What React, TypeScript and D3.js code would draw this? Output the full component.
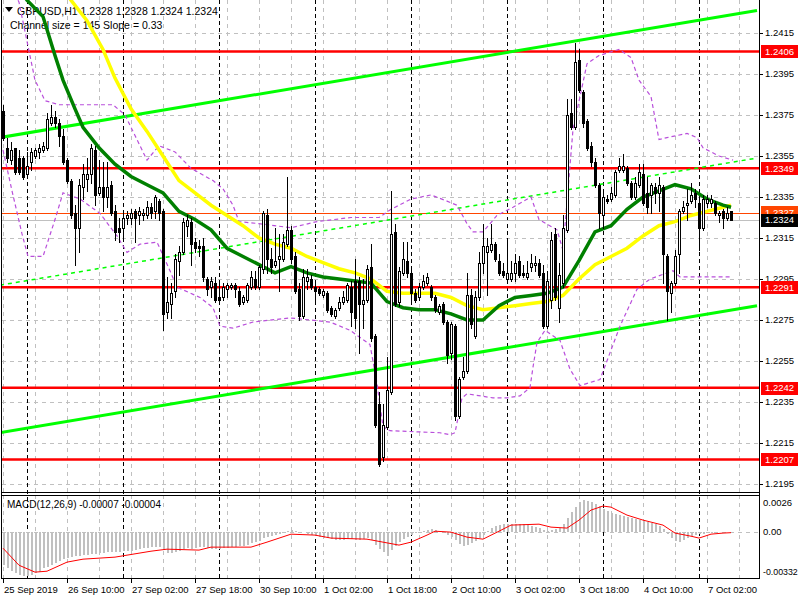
import * as d3 from "d3";

// price scale ticks, levels and time axis
const priceTicks = [1.2195, 1.2215, 1.2235, 1.2255, 1.2275, 1.2295, 1.2315, 1.2335, 1.2355, 1.2375, 1.2395, 1.2415];
const levels = [1.2406, 1.2349, 1.2291, 1.2242, 1.2207];
const bidPrice = 1.2324;
const askPrice = 1.2327;
const timeLabels = ["25 Sep 2019", "26 Sep 10:00", "27 Sep 02:00", "27 Sep 18:00", "30 Sep 10:00", "1 Oct 02:00", "1 Oct 18:00", "2 Oct 10:00", "3 Oct 02:00", "3 Oct 18:00", "4 Oct 10:00", "7 Oct 02:00"];
const timeLabelBars = [0, 16, 32, 48, 64, 80, 96, 112, 128, 144, 160, 176];
const daySeparatorBars = [6, 30, 54, 78, 102, 126, 150, 174];
const gridBars = d3.range(0, 189, 8);

// H1 candles: open, high, low, close
const candles: [number, number, number, number][] = [
  [1.2377, 1.2380, 1.2363, 1.2364], [1.2359, 1.2364, 1.2352, 1.2354], [1.2353, 1.2362, 1.2351, 1.2358], [1.2359, 1.2359, 1.2346, 1.2347],
  [1.2354, 1.2358, 1.2346, 1.2347], [1.2354, 1.2355, 1.2344, 1.2345], [1.2346, 1.2357, 1.2345, 1.2350], [1.2352, 1.2359, 1.2348, 1.2357],
  [1.2355, 1.2359, 1.2354, 1.2358], [1.2357, 1.2361, 1.2354, 1.2359], [1.2358, 1.2362, 1.2357, 1.2360], [1.2359, 1.2376, 1.2358, 1.2373],
  [1.2371, 1.2380, 1.2370, 1.2374], [1.2374, 1.2377, 1.2369, 1.2371], [1.2371, 1.2373, 1.2360, 1.2365], [1.2365, 1.2368, 1.2351, 1.2352],
  [1.2353, 1.2354, 1.2342, 1.2343], [1.2343, 1.2344, 1.2325, 1.2326], [1.2327, 1.2331, 1.2302, 1.2320], [1.2320, 1.2344, 1.2308, 1.2341],
  [1.2340, 1.2351, 1.2334, 1.2346], [1.2344, 1.2354, 1.2338, 1.2346], [1.2346, 1.2361, 1.2342, 1.2359], [1.2358, 1.2360, 1.2331, 1.2336],
  [1.2337, 1.2353, 1.2336, 1.2340], [1.2340, 1.2352, 1.2328, 1.2335], [1.2335, 1.2352, 1.2330, 1.2340], [1.2341, 1.2343, 1.2326, 1.2327],
  [1.2328, 1.2331, 1.2314, 1.2318], [1.2320, 1.2325, 1.2313, 1.2318], [1.2320, 1.2327, 1.2315, 1.2325], [1.2325, 1.2328, 1.2322, 1.2326],
  [1.2325, 1.2329, 1.2322, 1.2327], [1.2328, 1.2329, 1.2313, 1.2325], [1.2326, 1.2330, 1.2322, 1.2328], [1.2326, 1.2329, 1.2324, 1.2327],
  [1.2326, 1.2333, 1.2325, 1.2330], [1.2330, 1.2332, 1.2325, 1.2327], [1.2328, 1.2336, 1.2325, 1.2335], [1.2333, 1.2334, 1.2324, 1.2327],
  [1.2328, 1.2329, 1.2270, 1.2278], [1.2279, 1.2296, 1.2276, 1.2284], [1.2283, 1.2293, 1.2276, 1.2288], [1.2289, 1.2307, 1.2286, 1.2305],
  [1.2304, 1.2311, 1.2297, 1.2308], [1.2308, 1.2325, 1.2307, 1.2323], [1.2321, 1.2326, 1.2316, 1.2324], [1.2323, 1.2325, 1.2302, 1.2312],
  [1.2313, 1.2315, 1.2308, 1.2310], [1.2311, 1.2314, 1.2306, 1.2310], [1.2311, 1.2315, 1.2294, 1.2296], [1.2295, 1.2296, 1.2287, 1.2290],
  [1.2291, 1.2296, 1.2286, 1.2294], [1.2293, 1.2296, 1.2284, 1.2285], [1.2286, 1.2293, 1.2284, 1.2285], [1.2286, 1.2293, 1.2285, 1.2291],
  [1.2290, 1.2293, 1.2286, 1.2292], [1.2291, 1.2293, 1.2290, 1.2292], [1.2292, 1.2293, 1.2286, 1.2290], [1.2289, 1.2291, 1.2282, 1.2283],
  [1.2284, 1.2287, 1.2283, 1.2286], [1.2285, 1.2293, 1.2284, 1.2292], [1.2291, 1.2299, 1.2290, 1.2296], [1.2295, 1.2299, 1.2290, 1.2291],
  [1.2291, 1.2302, 1.2290, 1.2301], [1.2300, 1.2328, 1.2298, 1.2327], [1.2326, 1.2329, 1.2298, 1.2305], [1.2305, 1.2310, 1.2298, 1.2301],
  [1.2302, 1.2320, 1.2301, 1.2304], [1.2305, 1.2317, 1.2289, 1.2306], [1.2305, 1.2317, 1.2304, 1.2313], [1.2312, 1.2345, 1.2311, 1.2319],
  [1.2319, 1.2321, 1.2303, 1.2305], [1.2306, 1.2308, 1.2288, 1.2289], [1.2290, 1.2293, 1.2275, 1.2277], [1.2277, 1.2300, 1.2276, 1.2296],
  [1.2294, 1.2300, 1.2290, 1.2296], [1.2295, 1.2297, 1.2290, 1.2291], [1.2291, 1.2293, 1.2283, 1.2289], [1.2290, 1.2291, 1.2287, 1.2288],
  [1.2287, 1.2290, 1.2286, 1.2289], [1.2288, 1.2289, 1.2279, 1.2280], [1.2281, 1.2282, 1.2277, 1.2278], [1.2277, 1.2281, 1.2276, 1.2280],
  [1.2281, 1.2286, 1.2280, 1.2284], [1.2284, 1.2289, 1.2283, 1.2286], [1.2285, 1.2293, 1.2284, 1.2292], [1.2291, 1.2294, 1.2272, 1.2279],
  [1.2294, 1.2305, 1.2271, 1.2276], [1.2294, 1.2296, 1.2259, 1.2283], [1.2283, 1.2295, 1.2271, 1.2285], [1.2285, 1.2302, 1.2284, 1.2300],
  [1.2301, 1.2312, 1.2265, 1.2266], [1.2267, 1.2268, 1.2223, 1.2224], [1.2234, 1.2240, 1.2204, 1.2205], [1.2208, 1.2234, 1.2206, 1.2224],
  [1.2223, 1.2257, 1.2222, 1.2241], [1.2240, 1.2338, 1.2239, 1.2317], [1.2318, 1.2322, 1.2282, 1.2283], [1.2284, 1.2301, 1.2282, 1.2299],
  [1.2298, 1.2313, 1.2297, 1.2305], [1.2304, 1.2313, 1.2296, 1.2298], [1.2298, 1.2300, 1.2285, 1.2288], [1.2288, 1.2290, 1.2284, 1.2285],
  [1.2286, 1.2293, 1.2285, 1.2291], [1.2291, 1.2297, 1.2290, 1.2294], [1.2293, 1.2298, 1.2292, 1.2296], [1.2291, 1.2292, 1.2285, 1.2286],
  [1.2286, 1.2287, 1.2279, 1.2280], [1.2279, 1.2283, 1.2278, 1.2282], [1.2283, 1.2284, 1.2273, 1.2274], [1.2274, 1.2275, 1.2254, 1.2258],
  [1.2259, 1.2274, 1.2256, 1.2273], [1.2272, 1.2273, 1.2226, 1.2228], [1.2228, 1.2247, 1.2227, 1.2246], [1.2247, 1.2257, 1.2246, 1.2250],
  [1.2250, 1.2298, 1.2249, 1.2287], [1.2287, 1.2290, 1.2271, 1.2273], [1.2267, 1.2289, 1.2266, 1.2286], [1.2286, 1.2308, 1.2285, 1.2303],
  [1.2303, 1.2322, 1.2298, 1.2311], [1.2308, 1.2315, 1.2287, 1.2311], [1.2309, 1.2322, 1.2308, 1.2312], [1.2312, 1.2313, 1.2304, 1.2305],
  [1.2304, 1.2307, 1.2297, 1.2298], [1.2299, 1.2303, 1.2296, 1.2297], [1.2295, 1.2314, 1.2294, 1.2298], [1.2295, 1.2304, 1.2294, 1.2298],
  [1.2298, 1.2307, 1.2294, 1.2303], [1.2304, 1.2306, 1.2296, 1.2297], [1.2298, 1.2302, 1.2296, 1.2297], [1.2296, 1.2304, 1.2295, 1.2298],
  [1.2301, 1.2307, 1.2299, 1.2303], [1.2302, 1.2306, 1.2299, 1.2303], [1.2303, 1.2305, 1.2296, 1.2297], [1.2298, 1.2302, 1.2271, 1.2272],
  [1.2272, 1.2299, 1.2271, 1.2294], [1.2285, 1.2318, 1.2281, 1.2314], [1.2317, 1.2320, 1.2285, 1.2286], [1.2281, 1.2303, 1.2274, 1.2297],
  [1.2293, 1.2326, 1.2291, 1.2320], [1.2319, 1.2383, 1.2318, 1.2375], [1.2376, 1.2383, 1.2368, 1.2369], [1.2369, 1.2410, 1.2368, 1.2401],
  [1.2402, 1.2407, 1.2386, 1.2387], [1.2386, 1.2387, 1.2369, 1.2371], [1.2372, 1.2373, 1.2358, 1.2359], [1.2360, 1.2362, 1.2350, 1.2352],
  [1.2352, 1.2354, 1.2340, 1.2341], [1.2341, 1.2342, 1.2320, 1.2327], [1.2326, 1.2337, 1.2320, 1.2335], [1.2334, 1.2336, 1.2332, 1.2333],
  [1.2334, 1.2340, 1.2333, 1.2337], [1.2336, 1.2348, 1.2335, 1.2347], [1.2348, 1.2354, 1.2347, 1.2350], [1.2348, 1.2356, 1.2347, 1.2350],
  [1.2349, 1.2350, 1.2341, 1.2342], [1.2342, 1.2343, 1.2334, 1.2335], [1.2335, 1.2345, 1.2334, 1.2342], [1.2341, 1.2351, 1.2340, 1.2347],
  [1.2346, 1.2351, 1.2331, 1.2332], [1.2337, 1.2345, 1.2327, 1.2330], [1.2336, 1.2342, 1.2327, 1.2341], [1.2340, 1.2342, 1.2332, 1.2337],
  [1.2337, 1.2345, 1.2328, 1.2341], [1.2340, 1.2341, 1.2293, 1.2307], [1.2306, 1.2307, 1.2275, 1.2289], [1.2288, 1.2294, 1.2279, 1.2293],
  [1.2293, 1.2309, 1.2292, 1.2306], [1.2307, 1.2329, 1.2298, 1.2328], [1.2328, 1.2333, 1.2327, 1.2330], [1.2331, 1.2339, 1.2324, 1.2332],
  [1.2333, 1.2342, 1.2332, 1.2336], [1.2337, 1.2339, 1.2330, 1.2334], [1.2332, 1.2335, 1.2309, 1.2320], [1.2320, 1.2336, 1.2319, 1.2334],
  [1.2332, 1.2336, 1.2330, 1.2334], [1.2332, 1.2336, 1.2330, 1.2334], [1.2332, 1.2333, 1.2326, 1.2327], [1.2326, 1.2328, 1.2323, 1.2327],
  [1.2328, 1.2329, 1.2320, 1.2325], [1.2325, 1.2330, 1.2324, 1.2327], [1.2328, 1.2328, 1.2324, 1.2324],
];

// moving averages [bar, price]
const maYellow: [number, number][] = [
  [16, 1.2434], [17, 1.2431], [21, 1.2421], [25, 1.2407], [28, 1.2393], [32, 1.2378], [36, 1.2367], [40, 1.2355], [44, 1.2343],
  [48, 1.2337], [52, 1.2331], [56, 1.2326], [60, 1.2321], [64, 1.2315], [68, 1.2312], [72, 1.2310], [76, 1.2306], [80, 1.2303],
  [84, 1.2300], [88, 1.2298], [92, 1.2295], [96, 1.2289], [100, 1.2288], [104, 1.2288], [108, 1.2288], [112, 1.2286], [116, 1.2282],
  [120, 1.2280], [124, 1.2281], [128, 1.2282], [132, 1.2283], [136, 1.2284], [140, 1.2287], [144, 1.2295], [148, 1.2302], [152, 1.2306],
  [156, 1.2310], [160, 1.2316], [164, 1.2321], [168, 1.2323], [172, 1.2326], [176, 1.2328], [180, 1.2330], [182, 1.2331],
];
const maGreen: [number, number][] = [
  [5, 1.2434], [6, 1.2431], [10, 1.2423], [13, 1.2404], [15, 1.2392], [18, 1.2378], [20, 1.2369], [24, 1.2359], [28, 1.2351],
  [32, 1.2345], [36, 1.2341], [40, 1.2337], [44, 1.2328], [48, 1.2324], [52, 1.2319], [56, 1.2310], [60, 1.2306], [64, 1.2302],
  [68, 1.2298], [72, 1.2301], [76, 1.2298], [80, 1.2296], [84, 1.2295], [88, 1.2294], [92, 1.2293], [96, 1.2284], [100, 1.2281],
  [104, 1.2280], [108, 1.2280], [112, 1.2278], [116, 1.2275], [120, 1.2275], [124, 1.2282], [128, 1.2286], [132, 1.2287], [136, 1.2288],
  [140, 1.2291], [144, 1.2304], [148, 1.2318], [152, 1.2321], [156, 1.2329], [160, 1.2335], [164, 1.2338], [168, 1.2341], [172, 1.2339],
  [176, 1.2334], [180, 1.2331], [182, 1.2330],
];

// bollinger-style bands [bar, price]
const bandUpper: [number, number][] = [
  [3, 1.2434], [4, 1.2430], [8, 1.2392], [10.5, 1.2382], [14, 1.2380], [19, 1.2380], [27.5, 1.2380], [30.5, 1.2375], [33, 1.2365],
  [36, 1.2353], [39, 1.2360], [43, 1.2357], [47, 1.2349], [52.5, 1.2343], [55, 1.2339], [57.5, 1.2331], [59, 1.2323], [64, 1.2322],
  [72, 1.2320], [78.5, 1.2323], [87, 1.2325], [94, 1.2325], [97, 1.2329], [102, 1.2334], [107, 1.2336], [111, 1.2333], [113.5, 1.2331],
  [116, 1.2322], [117.5, 1.2318], [120, 1.2318], [123.5, 1.2326], [127.5, 1.2330], [132, 1.2335], [134, 1.2324], [138.5, 1.2319],
  [140, 1.2309], [142.5, 1.2368], [146, 1.2400], [149, 1.2404], [154, 1.2407], [157, 1.2403], [159, 1.2392], [162, 1.2384],
  [164, 1.2363], [166, 1.2364], [171, 1.2366], [173.5, 1.2364], [175, 1.2359], [179, 1.2355], [182.5, 1.2353],
];
const bandLower: [number, number][] = [
  [0, 1.2358], [2.25, 1.2338], [4.75, 1.2317], [6.25, 1.2306], [10, 1.2306], [13, 1.2324], [15, 1.2337], [19.25, 1.2334],
  [24.25, 1.2327], [28.5, 1.2316], [31, 1.2308], [34.25, 1.2312], [38.5, 1.2313], [41.75, 1.2299], [43.5, 1.2291], [49.25, 1.2286],
  [52.5, 1.2281], [54.25, 1.2272], [57.5, 1.2271], [62.5, 1.2274], [71.75, 1.2276], [81.75, 1.2274], [86.75, 1.2270], [91.75, 1.2263],
  [93.5, 1.2244], [95, 1.2223], [96.75, 1.2221], [109.25, 1.2220], [111.75, 1.2219], [113, 1.2220], [114.75, 1.2237], [116, 1.2239],
  [122.5, 1.2237], [126, 1.2237], [129.25, 1.2238], [131.75, 1.2242], [132.5, 1.2252], [133.5, 1.2264], [135.5, 1.2270],
  [139.25, 1.2265], [141.75, 1.2251], [144.25, 1.2243], [149.25, 1.2246], [154.25, 1.2272], [158.5, 1.2290], [161.75, 1.2295],
  [167.5, 1.2299], [169.25, 1.2296], [176, 1.2296], [182.25, 1.2296],
];

// linear regression channel (bar, price at both ends)
const channelBars = [-0.75, 188.5];
const channelUpper = [1.2364, 1.2426];
const channelMid = [1.2292, 1.2354];
const channelLower = [1.2220, 1.2282];

// MACD(12,26,9) histogram per bar and signal line [bar, value]
const macdHist = [
  -0.00245, -0.00267, -0.00289, -0.00304, -0.00319, -0.00326, -0.00326, -0.00319, -0.00304, -0.00296, -0.00267, -0.00259,
  -0.00245, -0.00230, -0.00215, -0.00200, -0.00193, -0.00185, -0.00178, -0.00178, -0.00170, -0.00170, -0.00163, -0.00163,
  -0.00156, -0.00156, -0.00148, -0.00148, -0.00148, -0.00148, -0.00141, -0.00141, -0.00141, -0.00133, -0.00126, -0.00119,
  -0.00119, -0.00111, -0.00111, -0.00111, -0.00133, -0.00156, -0.00156, -0.00148, -0.00141, -0.00126, -0.00119, -0.00126,
  -0.00119, -0.00111, -0.00111, -0.00119, -0.00126, -0.00126, -0.00126, -0.00119, -0.00119, -0.00111, -0.00111, -0.00104,
  -0.00104, -0.00096, -0.00082, -0.00074, -0.00067, -0.00044, -0.00037, -0.00030, -0.00022, -0.00015, -0.00007, 0.00007,
  0.00015, 0.00007, 0.0, 0.0, -0.00015, -0.00022, -0.00030, -0.00037, -0.00044, -0.00044, -0.00052, -0.00059,
  -0.00059, -0.00059, -0.00052, -0.00052, -0.00059, -0.00059, -0.00052, -0.00044, -0.00059, -0.00096, -0.00126, -0.00148,
  -0.00178, -0.00133, -0.00104, -0.00074, -0.00052, -0.00037, -0.00022, -0.00007, 0.0, 0.00007, 0.00015, 0.00022,
  0.00015, 0.00007, -0.00007, -0.00022, -0.00037, -0.00059, -0.00089, -0.00104, -0.00096, -0.00082, -0.00067, -0.00044,
  -0.00022, 0.00007, 0.00030, 0.00044, 0.00052, 0.00059, 0.00059, 0.00059, 0.00059, 0.00059, 0.00059, 0.00052,
  0.00044, 0.00037, 0.00030, 0.00015, 0.00007, 0.00015, 0.00022, 0.00030, 0.00059, 0.00104, 0.00148, 0.00185,
  0.00222, 0.00237, 0.00230, 0.00222, 0.00207, 0.00193, 0.00170, 0.00156, 0.00141, 0.00133, 0.00126, 0.00119,
  0.00111, 0.00104, 0.00096, 0.00089, 0.00082, 0.00074, 0.00067, 0.00059, 0.00044, 0.00022, -0.00015, -0.00044,
  -0.00067, -0.00074, -0.00059, -0.00044, -0.00030, -0.00022, -0.00015, -0.00015, -0.00007, -0.00007, -0.00007, 0.0,
  0.0, 0.0, -0.00007,
];
const macdSignal: [number, number][] = [
  [0, -0.00119], [4, -0.00245], [8, -0.00296], [11, -0.00289], [16, -0.00222], [20, -0.00200], [28, -0.00185], [37, -0.00141],
  [41, -0.00126], [49, -0.00133], [52, -0.00111], [62, -0.00111], [66, -0.00074], [72, -0.00015], [78, -0.00022], [82, -0.00044],
  [91, -0.00052], [95, -0.00074], [99, -0.00096], [102, -0.00074], [106, -0.00022], [108, 0.00007], [112, 0.0], [116, -0.00037],
  [120, -0.00052], [124, 0.00007], [127, 0.00052], [134, 0.00059], [137, 0.00037], [141, 0.00030], [144, 0.00089], [147, 0.00163],
  [150, 0.00193], [152, 0.00185], [156, 0.00126], [160, 0.00089], [165, 0.00052], [168, -0.00007], [172, -0.00030], [174, -0.00044],
  [177, -0.00015], [180, -0.00007], [182, -0.00004],
];
const macdTickLabels = ["0.0026", "0.00", "-0.00332"];

const FONT = "'Liberation Sans', Arial, sans-serif";

export default function App() {
  const width = 800;
  const height = 600;
  const plotRight = 759;
  const mainBottom = 492;
  const macdTop = 495;
  const macdBottom = 578;

  const x = d3.scaleLinear().domain([0, 182]).range([3, 731]);
  const y = d3.scaleLinear().domain([1.2195, 1.2415]).range([484, 33]);
  const m = d3.scaleLinear().domain([-0.00332, 0.0026]).range([577, 497]);

  const pairLine = d3
    .line<[number, number]>()
    .x((d) => x(d[0]))
    .y((d) => y(d[1]));
  const signalLine = d3
    .line<[number, number]>()
    .x((d) => x(d[0]))
    .y((d) => m(d[1]));
  const channel = (vals: number[]) =>
    pairLine(channelBars.map((b, i) => [b, vals[i]] as [number, number])) ?? "";

  const fmt = d3.format(".4f");
  const macdTickY = [m(0.0026) + 6, m(0), m(-0.00332) - 5];

  return (
    <svg
      width={width}
      height={height}
      style={{ position: "fixed", left: 0, top: 0, display: "block", background: "#fff" }}
    >
      <defs>
        <clipPath id="mainClip">
          <rect x={1} y={0} width={plotRight - 1} height={mainBottom} />
        </clipPath>
        <clipPath id="macdClip">
          <rect x={1} y={macdTop + 1} width={plotRight - 1} height={macdBottom - macdTop - 1} />
        </clipPath>
      </defs>

      {/* grid */}
      <g stroke="#c0c0c0" strokeDasharray="4,4" shapeRendering="crispEdges">
        {priceTicks.map((p) => (
          <line key={p} x1={2} x2={plotRight} y1={Math.round(y(p)) + 0.5} y2={Math.round(y(p)) + 0.5} />
        ))}
        {gridBars.map((b) => (
          <line key={"v" + b} x1={Math.round(x(b)) + 0.5} x2={Math.round(x(b)) + 0.5} y1={0} y2={mainBottom} />
        ))}
        {gridBars.map((b) => (
          <line key={"mv" + b} x1={Math.round(x(b)) + 0.5} x2={Math.round(x(b)) + 0.5} y1={macdTop} y2={macdBottom} />
        ))}
        <line x1={2} x2={plotRight} y1={Math.round(m(0)) + 0.5} y2={Math.round(m(0)) + 0.5} />
      </g>
      <g stroke="#000" strokeDasharray="4,3" shapeRendering="crispEdges">
        {daySeparatorBars.map((b) => (
          <line key={b} x1={Math.round(x(b)) + 0.5} x2={Math.round(x(b)) + 0.5} y1={0} y2={macdBottom} />
        ))}
      </g>

      {/* title */}
      <polygon points="5,7 13,7 9,12" fill="#000" />
      <text x={17} y={14.5} fontFamily={FONT} fontSize={10.5} fill="#000">
        GBPUSD,H1  1.2328 1.2328 1.2324 1.2324
      </text>
      <text x={10} y={28.5} fontFamily={FONT} fontSize={10.5} fill="#000">
        Channel size = 145 Slope = 0.33
      </text>

      <g clipPath="url(#mainClip)">
        {/* levels */}
        {levels.map((p) => (
          <line key={p} x1={0} x2={plotRight} y1={y(p)} y2={y(p)} stroke="#ff0000" strokeWidth={2.5} />
        ))}
        <line x1={0} x2={plotRight} y1={Math.round(y(askPrice)) + 0.5} y2={Math.round(y(askPrice)) + 0.5} stroke="#ff4500" />
        <line x1={0} x2={plotRight} y1={Math.round(y(bidPrice)) + 0.5} y2={Math.round(y(bidPrice)) + 0.5} stroke="#c0c0c0" />

        {/* regression channel */}
        <path d={channel(channelUpper)} stroke="#00ff00" strokeWidth={3} fill="none" />
        <path d={channel(channelLower)} stroke="#00ff00" strokeWidth={3} fill="none" />
        <path d={channel(channelMid)} stroke="#00ff00" strokeWidth={1.5} strokeDasharray="4,4" fill="none" />

        {/* bands */}
        <path d={pairLine(bandUpper) ?? ""} stroke="#b94fdb" strokeWidth={1.2} strokeDasharray="4,3" fill="none" />
        <path d={pairLine(bandLower) ?? ""} stroke="#b94fdb" strokeWidth={1.2} strokeDasharray="4,3" fill="none" />

        {/* moving averages */}
        <path d={pairLine(maYellow) ?? ""} stroke="#ffff00" strokeWidth={3.5} fill="none" />
        <path d={pairLine(maGreen) ?? ""} stroke="#008000" strokeWidth={3.5} fill="none" />

        {/* candles */}
        {candles.map(([o, h, l, c], i) => {
          const cx = Math.round(x(i));
          const top = Math.round(y(Math.max(o, c)));
          const bot = Math.round(y(Math.min(o, c)));
          const bull = c >= o;
          return (
            <g key={i} shapeRendering="crispEdges">
              <line x1={cx + 0.5} x2={cx + 0.5} y1={Math.round(y(h))} y2={Math.round(y(l)) + 1} stroke="#000" />
              <rect x={cx - 0.5} y={top + 0.5} width={2} height={Math.max(bot - top, 1)} fill={bull ? "#fff" : "#000"} stroke="#000" />
            </g>
          );
        })}
      </g>

      {/* MACD */}
      <text x={7} y={508} fontFamily={FONT} fontSize={10} fill="#000">
        MACD(12,26,9) -0.00007 -0.00004
      </text>
      <g clipPath="url(#macdClip)">
        {macdHist.map((v, i) => (
          <rect
            key={i}
            x={Math.round(x(i)) - 0.5}
            y={Math.min(m(v), m(0))}
            width={2}
            height={Math.abs(m(v) - m(0))}
            fill="#c0c0c0"
            shapeRendering="crispEdges"
          />
        ))}
        <path d={signalLine(macdSignal) ?? ""} stroke="#ff0000" strokeWidth={1} fill="none" />
      </g>

      {/* frames */}
      <g stroke="#000" fill="none" shapeRendering="crispEdges">
        <line x1={1.5} x2={1.5} y1={0} y2={macdBottom} />
        <line x1={plotRight + 0.5} x2={plotRight + 0.5} y1={0} y2={macdBottom + 1} />
        <line x1={1} x2={plotRight} y1={mainBottom + 0.5} y2={mainBottom + 0.5} />
        <line x1={1} x2={plotRight} y1={macdTop + 0.5} y2={macdTop + 0.5} />
        <line x1={1} x2={plotRight + 1} y1={macdBottom + 0.5} y2={macdBottom + 0.5} />
      </g>

      {/* price axis */}
      <g fontFamily={FONT} fontSize={9.5}>
        {priceTicks.map((p) => (
          <g key={p}>
            <line x1={plotRight} x2={plotRight + 4} y1={Math.round(y(p)) + 0.5} y2={Math.round(y(p)) + 0.5} stroke="#000" shapeRendering="crispEdges" />
            <text x={765} y={y(p)} dy="0.35em" fill="#000">{fmt(p)}</text>
          </g>
        ))}
        {levels.map((p) => (
          <g key={"l" + p}>
            <rect x={761} y={Math.round(y(p)) - 6} width={37} height={13} fill="#ff0000" />
            <text x={765} y={y(p)} dy="0.35em" fill="#fff">{fmt(p)}</text>
          </g>
        ))}
        <rect x={761} y={Math.round(y(askPrice)) - 7} width={37} height={13} fill="#ff4500" />
        <text x={765} y={y(askPrice) - 1} dy="0.35em" fill="#fff">{fmt(askPrice)}</text>
        <rect x={761} y={Math.round(y(bidPrice)) - 6} width={37} height={13} fill="#000" />
        <text x={765} y={y(bidPrice)} dy="0.35em" fill="#fff">{fmt(bidPrice)}</text>

        {macdTickLabels.map((t, i) => (
          <text key={t} x={763} y={macdTickY[i]} dy="0.35em" fill="#000" fontSize={i === 2 ? 8.8 : 9.5}>
            {t}
          </text>
        ))}
      </g>

      {/* time axis */}
      <g fontFamily={FONT} fontSize={9.5} fill="#000">
        {timeLabelBars.map((b, i) => (
          <g key={b}>
            <line x1={Math.round(x(b)) + 0.5} x2={Math.round(x(b)) + 0.5} y1={macdBottom} y2={macdBottom + 5} stroke="#000" shapeRendering="crispEdges" />
            <text x={Math.round(x(b)) + 1} y={593}>{timeLabels[i]}</text>
          </g>
        ))}
      </g>
    </svg>
  );
}
